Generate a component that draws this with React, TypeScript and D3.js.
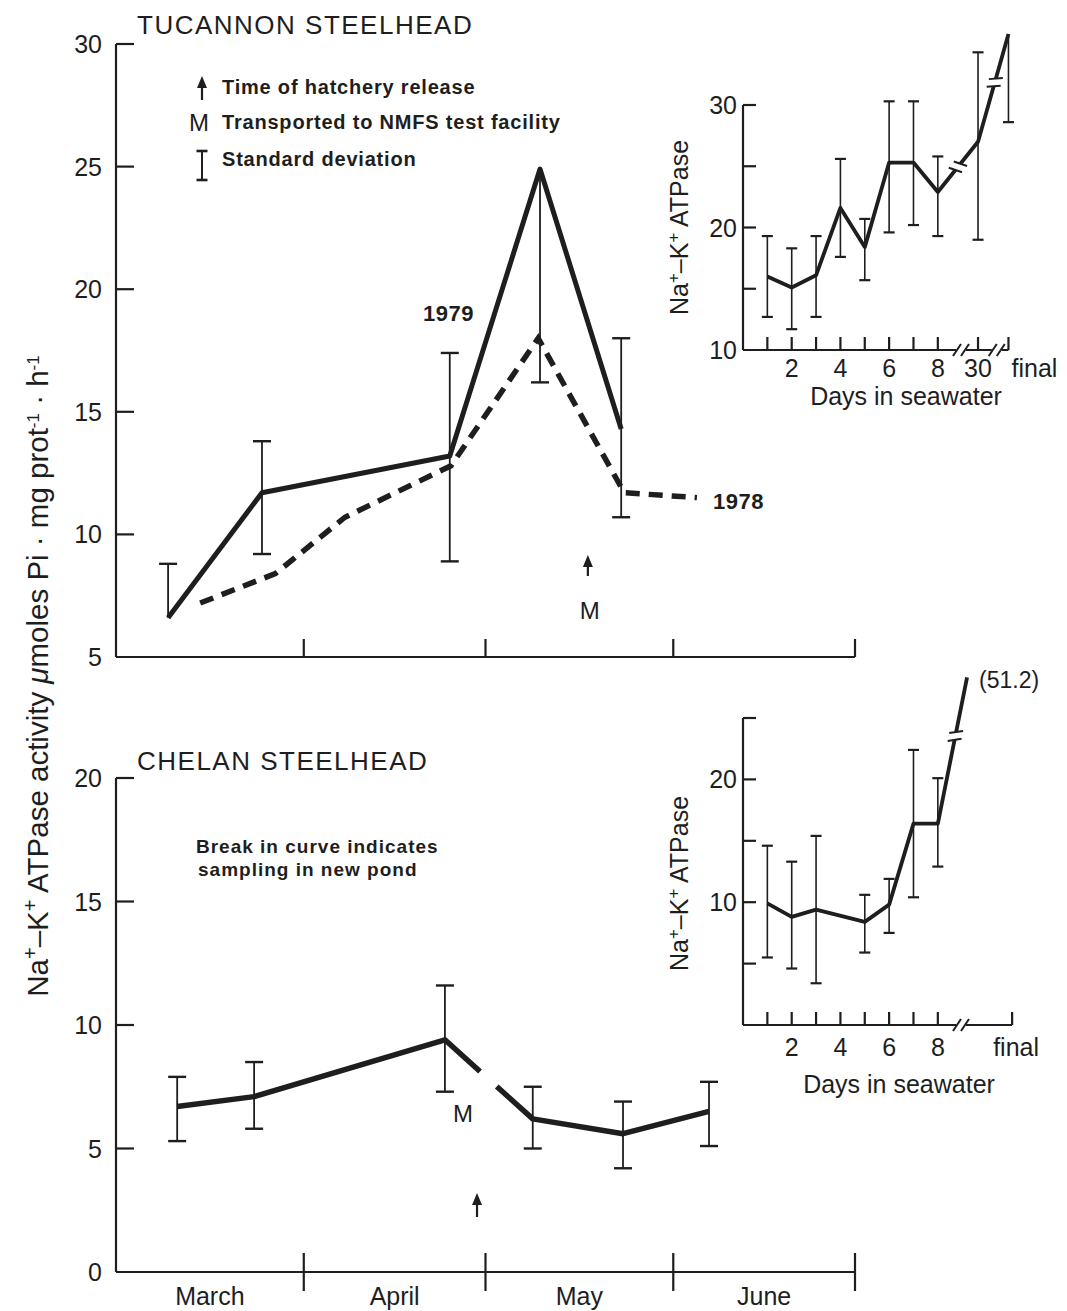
import React from 'react';
import * as d3 from 'd3';

const FONT = '"Liberation Sans", Arial, Helvetica, sans-serif';
const INK = '#1e1e1e';

// main panels: x = days since March 1
const monthNames = ['March', 'April', 'May', 'June'];
const monthBounds = [0, 31, 61, 92, 122];

// Tucannon 1979 (solid) with standard deviations (null = not drawn)
const tucDays79 = [8.6, 24.1, 55.1, 70.0, 83.4];
const tucVals79 = [6.6, 11.7, 13.2, 24.9, 14.3];
const tucSdHi79 = [8.8, 13.8, 17.4, null, 18.0];
const tucSdLo79 = [null, 9.2, 8.9, 16.2, 10.7];

// Tucannon 1978 (dashed)
const tucDays78 = [13.9, 26.3, 37.8, 55.3, 69.7, 83.9, 95.9];
const tucVals78 = [7.2, 8.4, 10.7, 12.8, 18.0, 11.7, 11.5];

const tucYTicks = [5, 10, 15, 20, 25, 30];
const tucReleaseDay = 77.9;

// Chelan
const chelDays = [10.1, 22.8, 54.3, 68.8, 83.7, 97.9];
const chelVals = [6.7, 7.1, 9.4, 6.2, 5.6, 6.5];
const chelSdHi = [7.9, 8.5, 11.6, 7.5, 6.9, 7.7];
const chelSdLo = [5.3, 5.8, 7.3, 5.0, 4.2, 5.1];
const chelGap = [2, 0.4, 0.59]; // segment index, gap start / end fraction (new pond)
const chelYTicks = [0, 5, 10, 15, 20];
const chelReleaseDay = 59.6;
const chelMDay = 57.3;

// Tucannon inset: days in seawater (position on axis), 30 and final after breaks
const tucInPos = [1, 2, 3, 4, 5, 6, 7, 8, 9.65, 10.9];
const tucInVals = [16.0, 15.1, 16.1, 21.6, 18.4, 25.3, 25.3, 22.9, 27.0, 35.8];
const tucInHi = [19.3, 18.3, 19.3, 25.6, 20.7, 30.3, 30.3, 25.8, 34.3, null];
const tucInLo = [12.7, 11.7, 12.7, 17.6, 15.7, 19.6, 20.2, 19.3, 19.0, 28.6];
const tucInTickLabels = [['2', 2], ['4', 4], ['6', 6], ['8', 8], ['30', 9.65]];
const tucInYTicks = [10, 15, 20, 25, 30];
const tucInYLabels = [10, 20, 30];
const tucInAxisBreaks = [8.95, 10.42];

// Chelan inset
const chelInPos = [1, 2, 3, 5, 6, 7, 8];
const chelInVals = [9.9, 8.8, 9.4, 8.4, 9.8, 16.4, 16.4];
const chelInHi = [14.6, 13.3, 15.4, 10.6, 11.9, 22.4, 20.1];
const chelInLo = [5.5, 4.6, 3.4, 5.9, 7.5, 10.4, 12.9];
const chelInFinalPos = 11.05;
const chelInOff = { pos: 9.2, value: 28.3, label: '(51.2)' };
const chelInYTicks = [5, 10, 15, 20, 25];
const chelInYLabels = [10, 20];
const chelInAxisBreaks = [8.95];

const xMain = d3.scaleLinear().domain([0, 122]).range([116, 855]);
const yTop = d3.scaleLinear().domain([5, 30]).range([657, 44]);
const yBot = d3.scaleLinear().domain([0, 20]).range([1272, 778]);
const xIn = d3.scaleLinear().domain([0, 11]).range([743, 1010.9]);
const yInTop = d3.scaleLinear().domain([10, 30]).range([350, 105]);
const yInBot = d3.scaleLinear().domain([0, 25]).range([1025, 718]);

type Pt = [number, number];

function ErrBar({ x, y, yLo, yHi, cap, w = 1.8 }: { x: number; y: number; yLo: number | null; yHi: number | null; cap: number; w?: number }) {
  const a = yHi ?? y;
  const b = yLo ?? y;
  return (
    <g stroke={INK} strokeWidth={w}>
      <line x1={x} x2={x} y1={a} y2={b} />
      {yHi != null && <line x1={x - cap / 2} x2={x + cap / 2} y1={yHi} y2={yHi} strokeWidth={w + 0.6} />}
      {yLo != null && <line x1={x - cap / 2} x2={x + cap / 2} y1={yLo} y2={yLo} strokeWidth={w + 0.6} />}
    </g>
  );
}

function Arrow({ x, yHead, len }: { x: number; yHead: number; len: number }) {
  return (
    <g fill={INK} stroke={INK}>
      <line x1={x} x2={x} y1={yHead + 6} y2={yHead + len} strokeWidth={2.2} />
      <path d={`M${x},${yHead} L${x - 5},${yHead + 12} L${x + 5},${yHead + 12} Z`} stroke="none" />
    </g>
  );
}

// "//" break across a segment p->q at fraction t
function SegBreak({ p, q, t, w }: { p: Pt; q: Pt; t: number; w: number }) {
  const dx = q[0] - p[0];
  const dy = q[1] - p[1];
  const L = Math.hypot(dx, dy);
  const ux = dx / L;
  const uy = dy / L;
  const cx = p[0] + dx * t;
  const cy = p[1] + dy * t;
  const g = 4;
  const ang = Math.atan2(dy, dx) + (70 * Math.PI) / 180;
  const sx = Math.cos(ang) * 7;
  const sy = Math.sin(ang) * 7;
  const ends: Pt[] = [[cx - ux * g, cy - uy * g], [cx + ux * g, cy + uy * g]];
  return (
    <g>
      <line x1={ends[0][0]} y1={ends[0][1]} x2={ends[1][0]} y2={ends[1][1]} stroke="#fff" strokeWidth={w + 3} />
      {ends.map((e, i) => (
        <line key={i} x1={e[0] - sx} y1={e[1] - sy} x2={e[0] + sx} y2={e[1] + sy} stroke={INK} strokeWidth={2} />
      ))}
    </g>
  );
}

function AxisBreak({ x, y }: { x: number; y: number }) {
  return (
    <g>
      <line x1={x - 5} x2={x + 5} y1={y} y2={y} stroke="#fff" strokeWidth={5} />
      {[-4, 4].map((o) => (
        <line key={o} x1={x + o - 4} y1={y + 6} x2={x + o + 4} y2={y - 6} stroke={INK} strokeWidth={2} />
      ))}
    </g>
  );
}

const line = d3.line<Pt>();

export default function App() {
  const tuc79: Pt[] = tucDays79.map((d, i) => [xMain(d), yTop(tucVals79[i])]);
  const tuc78: Pt[] = tucDays78.map((d, i) => [xMain(d), yTop(tucVals78[i])]);
  const chel: Pt[] = chelDays.map((d, i) => [xMain(d), yBot(chelVals[i])]);
  const [gi, g0, g1] = chelGap;
  const gapA = d3.interpolate(chel[gi], chel[gi + 1])(g0) as unknown as Pt;
  const gapB = d3.interpolate(chel[gi], chel[gi + 1])(g1) as unknown as Pt;
  const chelPart1 = [...chel.slice(0, gi + 1), gapA];
  const chelPart2 = [gapB, ...chel.slice(gi + 1)];

  const tucIn: Pt[] = tucInPos.map((p, i) => [xIn(p), yInTop(tucInVals[i])]);
  const chelIn: Pt[] = chelInPos.map((p, i) => [xIn(p), yInBot(chelInVals[i])]);
  const chelOff: Pt = [xIn(chelInOff.pos), yInBot(chelInOff.value)];

  const mainTick = 18;
  const inTick = 13;
  const inFont = 25;

  return (
    <div style={{ position: 'absolute', left: 0, top: 0 }}>
      <svg width={1067} height={1311} style={{ display: 'block', background: '#fff', fontFamily: FONT }}>
        {/* ---------- main y label ---------- */}
        <text transform="translate(48,676) rotate(-90)" textAnchor="middle" fontSize={29.5} fill={INK}>
          Na<tspan baselineShift="super" fontSize={20}>+</tspan>–K<tspan baselineShift="super" fontSize={20}>+</tspan> ATPase activity <tspan fontStyle="italic">μ</tspan>moles Pi · mg prot<tspan baselineShift="super" fontSize={17}>-1</tspan> · h<tspan baselineShift="super" fontSize={17}>-1</tspan>
        </text>

        {/* ---------- TUCANNON ---------- */}
        <text x={137} y={34} fontSize={26} fill={INK} letterSpacing={1.5}>TUCANNON STEELHEAD</text>
        <g stroke={INK} strokeWidth={2.2} fill="none">
          <line x1={xMain(0)} x2={xMain(0)} y1={yTop(30)} y2={yTop(5)} />
          <line x1={xMain(0)} x2={xMain(122)} y1={yTop(5)} y2={yTop(5)} />
          {tucYTicks.filter((t) => t !== 5).map((t) => (
            <line key={t} x1={xMain(0)} x2={xMain(0) + mainTick} y1={yTop(t)} y2={yTop(t)} />
          ))}
          {monthBounds.slice(1).map((m) => (
            <line key={m} x1={xMain(m)} x2={xMain(m)} y1={yTop(5)} y2={yTop(5) - mainTick} />
          ))}
        </g>
        {tucYTicks.map((t) => (
          <text key={t} x={102} y={yTop(t)} dy="0.36em" textAnchor="end" fontSize={25} fill={INK}>{t}</text>
        ))}

        {/* legend */}
        <Arrow x={202} yHead={76} len={24} />
        <text x={199} y={122} dy="0.36em" textAnchor="middle" fontSize={24} fill={INK}>M</text>
        <ErrBar x={202} y={165} yHi={151} yLo={180} cap={11} w={2} />
        <g fontSize={20} fontWeight="bold" fill={INK} letterSpacing={0.8}>
          <text x={222} y={87} dy="0.36em">Time of hatchery release</text>
          <text x={222} y={122} dy="0.36em">Transported to NMFS test facility</text>
          <text x={222} y={159} dy="0.36em">Standard deviation</text>
        </g>

        {tucDays79.map((d, i) => (
          <ErrBar key={i} x={xMain(d)} y={yTop(tucVals79[i])}
            yHi={tucSdHi79[i] == null ? null : yTop(tucSdHi79[i] as number)}
            yLo={tucSdLo79[i] == null ? null : yTop(tucSdLo79[i] as number)} cap={18} />
        ))}
        <path d={line(tuc78) ?? ''} fill="none" stroke={INK} strokeWidth={5.5} strokeDasharray="14,9" />
        <path d={line(tuc79) ?? ''} fill="none" stroke={INK} strokeWidth={5} strokeLinejoin="round" />
        <text x={474} y={313} dy="0.36em" textAnchor="end" fontSize={22} fontWeight="bold" fill={INK} letterSpacing={0.5}>1979</text>
        <text x={713} y={501} dy="0.36em" fontSize={22} fontWeight="bold" fill={INK} letterSpacing={0.5}>1978</text>
        <Arrow x={xMain(tucReleaseDay)} yHead={555} len={21} />
        <text x={xMain(tucReleaseDay) + 2} y={610} dy="0.36em" textAnchor="middle" fontSize={24} fill={INK}>M</text>

        {/* ---------- Tucannon inset ---------- */}
        <text transform={`translate(688,${(yInTop(10) + yInTop(30)) / 2}) rotate(-90)`} textAnchor="middle" fontSize={inFont} fill={INK}>
          Na<tspan baselineShift="super" fontSize={17}>+</tspan>–K<tspan baselineShift="super" fontSize={17}>+</tspan> ATPase
        </text>
        <g stroke={INK} strokeWidth={2.2} fill="none">
          <line x1={xIn(0)} x2={xIn(0)} y1={yInTop(30)} y2={yInTop(10)} />
          <line x1={xIn(0)} x2={xIn(10.9)} y1={yInTop(10)} y2={yInTop(10)} />
          {tucInYTicks.filter((t) => t !== 10).map((t) => (
            <line key={t} x1={xIn(0)} x2={xIn(0) + inTick} y1={yInTop(t)} y2={yInTop(t)} />
          ))}
          {[1, 2, 3, 4, 5, 6, 7, 8, 9.65, 10.9].map((p) => (
            <line key={p} x1={xIn(p)} x2={xIn(p)} y1={yInTop(10)} y2={yInTop(10) - inTick} />
          ))}
        </g>
        {tucInAxisBreaks.map((p) => <AxisBreak key={p} x={xIn(p)} y={yInTop(10)} />)}
        {tucInYLabels.map((t) => (
          <text key={t} x={xIn(0) - 6} y={yInTop(t)} dy="0.36em" textAnchor="end" fontSize={inFont} fill={INK}>{t}</text>
        ))}
        {tucInTickLabels.map(([l, p]) => (
          <text key={l} x={xIn(p as number)} y={377} textAnchor="middle" fontSize={inFont} fill={INK}>{l}</text>
        ))}
        <text x={xIn(10.9) + 26} y={377} textAnchor="middle" fontSize={inFont} fill={INK}>final</text>
        <text x={906} y={405} textAnchor="middle" fontSize={inFont} fill={INK}>Days in seawater</text>
        {tucInPos.map((p, i) => (
          <ErrBar key={i} x={xIn(p)} y={yInTop(tucInVals[i])}
            yHi={tucInHi[i] == null ? null : yInTop(tucInHi[i] as number)}
            yLo={yInTop(tucInLo[i])} cap={11} w={1.6} />
        ))}
        <path d={line(tucIn) ?? ''} fill="none" stroke={INK} strokeWidth={3.8} strokeLinejoin="round" />
        <SegBreak p={tucIn[7]} q={tucIn[8]} t={0.5} w={3.8} />
        <SegBreak p={tucIn[8]} q={tucIn[9]} t={0.55} w={3.8} />

        {/* ---------- CHELAN ---------- */}
        <text x={137} y={770} fontSize={26} fill={INK} letterSpacing={1.5}>CHELAN STEELHEAD</text>
        <g stroke={INK} strokeWidth={2.2} fill="none">
          <line x1={xMain(0)} x2={xMain(0)} y1={yBot(20)} y2={yBot(0)} />
          <line x1={xMain(0)} x2={xMain(122)} y1={yBot(0)} y2={yBot(0)} />
          {chelYTicks.filter((t) => t !== 0).map((t) => (
            <line key={t} x1={xMain(0)} x2={xMain(0) + mainTick} y1={yBot(t)} y2={yBot(t)} />
          ))}
          {monthBounds.slice(1).map((m) => (
            <line key={m} x1={xMain(m)} x2={xMain(m)} y1={yBot(0) - 19} y2={yBot(0) + 19} />
          ))}
        </g>
        {chelYTicks.map((t) => (
          <text key={t} x={102} y={yBot(t)} dy="0.36em" textAnchor="end" fontSize={25} fill={INK}>{t}</text>
        ))}
        {monthNames.map((m, i) => (
          <text key={m} x={xMain((monthBounds[i] + monthBounds[i + 1]) / 2)} y={1305} textAnchor="middle" fontSize={25} fill={INK}>{m}</text>
        ))}
        <g fontSize={19} fontWeight="bold" fill={INK} letterSpacing={1}>
          <text x={196} y={846} dy="0.36em">Break in curve indicates</text>
          <text x={198} y={869} dy="0.36em">sampling in new pond</text>
        </g>
        {chelDays.map((d, i) => (
          <ErrBar key={i} x={xMain(d)} y={yBot(chelVals[i])} yHi={yBot(chelSdHi[i])} yLo={yBot(chelSdLo[i])} cap={18} />
        ))}
        <path d={line(chelPart1) ?? ''} fill="none" stroke={INK} strokeWidth={5.5} strokeLinejoin="round" />
        <path d={line(chelPart2) ?? ''} fill="none" stroke={INK} strokeWidth={5.5} strokeLinejoin="round" />
        <text x={xMain(chelMDay)} y={1113} dy="0.36em" textAnchor="middle" fontSize={24} fill={INK}>M</text>
        <Arrow x={xMain(chelReleaseDay)} yHead={1193} len={24} />

        {/* ---------- Chelan inset ---------- */}
        <text transform={`translate(688,${(yInBot(0) + yInBot(25)) / 2 + 12}) rotate(-90)`} textAnchor="middle" fontSize={inFont} fill={INK}>
          Na<tspan baselineShift="super" fontSize={17}>+</tspan>–K<tspan baselineShift="super" fontSize={17}>+</tspan> ATPase
        </text>
        <g stroke={INK} strokeWidth={2.2} fill="none">
          <line x1={xIn(0)} x2={xIn(0)} y1={yInBot(25)} y2={yInBot(0)} />
          <line x1={xIn(0)} x2={xIn(chelInFinalPos)} y1={yInBot(0)} y2={yInBot(0)} />
          {chelInYTicks.map((t) => (
            <line key={t} x1={xIn(0)} x2={xIn(0) + inTick} y1={yInBot(t)} y2={yInBot(t)} />
          ))}
          {[1, 2, 3, 4, 5, 6, 7, 8, chelInFinalPos].map((p) => (
            <line key={p} x1={xIn(p)} x2={xIn(p)} y1={yInBot(0)} y2={yInBot(0) - inTick} />
          ))}
        </g>
        {chelInAxisBreaks.map((p) => <AxisBreak key={p} x={xIn(p)} y={yInBot(0)} />)}
        {chelInYLabels.map((t) => (
          <text key={t} x={xIn(0) - 6} y={yInBot(t)} dy="0.36em" textAnchor="end" fontSize={inFont} fill={INK}>{t}</text>
        ))}
        {[2, 4, 6, 8].map((p) => (
          <text key={p} x={xIn(p)} y={1056} textAnchor="middle" fontSize={inFont} fill={INK}>{p}</text>
        ))}
        <text x={xIn(chelInFinalPos) + 4} y={1056} textAnchor="middle" fontSize={inFont} fill={INK}>final</text>
        <text x={899} y={1093} textAnchor="middle" fontSize={inFont} fill={INK}>Days in seawater</text>
        {chelInPos.map((p, i) => (
          <ErrBar key={i} x={xIn(p)} y={yInBot(chelInVals[i])} yHi={yInBot(chelInHi[i])} yLo={yInBot(chelInLo[i])} cap={11} w={1.6} />
        ))}
        <path d={line([...chelIn, chelOff]) ?? ''} fill="none" stroke={INK} strokeWidth={3.8} strokeLinejoin="round" />
        <SegBreak p={chelIn[6]} q={chelOff} t={0.6} w={3.8} />
        <text x={chelOff[0] + 12} y={chelOff[1] + 2} dy="0.36em" fontSize={23} fill={INK}>{chelInOff.label}</text>
      </svg>
    </div>
  );
}
